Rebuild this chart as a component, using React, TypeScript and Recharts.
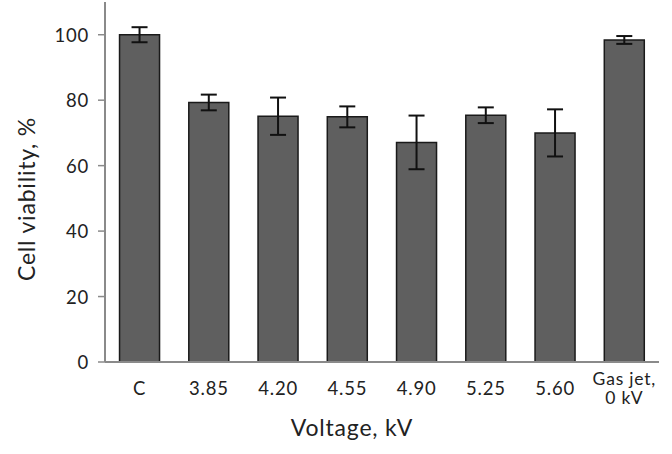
import React from "react";
import { BarChart, Bar, XAxis, YAxis, ErrorBar, Label } from "recharts";

const categories = ["C", "3.85", "4.20", "4.55", "4.90", "5.25", "5.60", "Gas jet,\n0 kV"];
const viability = [100, 79.3, 75.1, 74.9, 67.1, 75.4, 70.0, 98.4];
const errors = [2.3, 2.4, 5.7, 3.2, 8.2, 2.4, 7.2, 1.2];
const yTicks = [0, 20, 40, 60, 80, 100];

const data = categories.map((c, i) => ({ name: c, value: viability[i], err: errors[i] }));

const FONT = "Lato, 'Noto Sans', sans-serif";

const XTick = (props: any) => {
  const { x, y, payload } = props;
  const lines = String(payload.value).split("\n");
  if (lines.length > 1) {
    return (
      <text x={x} y={y} textAnchor="middle" fontFamily={FONT} fontSize={17.5} fill="#222" letterSpacing={0.8}>
        <tspan x={x} dy={15}>{lines[0]}</tspan>
        <tspan x={x} dy={19}>{lines[1]}</tspan>
      </text>
    );
  }
  return (
    <text x={x} y={y} textAnchor="middle" fontFamily={FONT} fontSize={18.5} fill="#222" letterSpacing={0.8}>
      <tspan x={x} dy={25}>{lines[0]}</tspan>
    </text>
  );
};

const YTick = (props: any) => {
  const { x, y, payload } = props;
  return (
    <text x={x - 7} y={y} textAnchor="end" dominantBaseline="central" fontFamily={FONT} fontSize={18.5} fill="#222" letterSpacing={0.8}>
      {payload.value}
    </text>
  );
};

export default function App() {
  return (
    <div style={{ position: "absolute", left: 0, top: 0, width: 672, height: 454, background: "#fff" }}>
      <BarChart
        width={672}
        height={454}
        data={data}
        margin={{ top: 2, right: 13, bottom: 0, left: 0 }}
        barCategoryGap="21%"
      >
        <XAxis
          dataKey="name"
          tick={<XTick />}
          tickLine={false}
          axisLine={{ stroke: "#8a8a8a", strokeWidth: 2 }}
          interval={0}
          height={92}
        >
          <Label
            content={() => (
              <text x={352} y={436} textAnchor="middle" fontFamily={FONT} fontSize={23} fill="#222" letterSpacing={0.8}>
                Voltage, kV
              </text>
            )}
          />
        </XAxis>
        <YAxis
          domain={[0, 110]}
          ticks={yTicks}
          width={105}
          tick={<YTick />}
          tickLine={{ stroke: "#8a8a8a", strokeWidth: 1.5 }}
          tickSize={7}
          axisLine={{ stroke: "#8a8a8a", strokeWidth: 2 }}
        >
          <Label
            content={() => (
              <text
                x={26}
                y={199}
                textAnchor="middle"
                fontFamily={FONT}
                fontSize={23}
                fill="#222"
                letterSpacing={0.8}
                transform="rotate(-90 26 199)"
                dominantBaseline="central"
              >
                Cell viability, %
              </text>
            )}
          />
        </YAxis>
        <Bar dataKey="value" fill="#5f5f5f" stroke="#1a1a1a" strokeWidth={1.5} isAnimationActive={false}>
          <ErrorBar dataKey="err" width={8} stroke="#111" strokeWidth={2} direction="y" />
        </Bar>
      </BarChart>
    </div>
  );
}
